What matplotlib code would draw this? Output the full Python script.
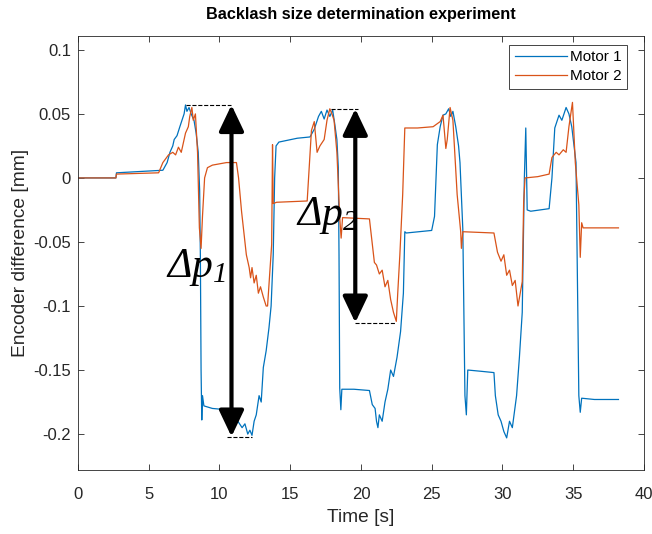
import numpy as np
import matplotlib
matplotlib.use("Agg")
import matplotlib.pyplot as plt

plt.rcParams['font.family'] = ['Liberation Sans', 'DejaVu Sans']
plt.rcParams['axes.unicode_minus'] = False
plt.rcParams['mathtext.fontset'] = 'custom'
plt.rcParams['mathtext.rm'] = 'Liberation Serif:italic'
plt.rcParams['mathtext.it'] = 'Liberation Serif:italic'

# Motor 1 (blue) encoder difference
t1 = [0, 2.68, 2.72, 6.0, 6.3, 6.5, 6.7, 6.8, 7.0, 7.2, 7.35, 7.5, 7.6, 7.7, 7.85,
      8.0, 8.2, 8.35, 8.5, 8.6, 8.65, 8.7, 8.75, 8.8, 8.9, 9.5, 10.5, 11.0, 11.3,
      11.6, 11.8, 12.0, 12.15, 12.3, 12.45, 12.6, 12.8, 12.95, 13.1, 13.3, 13.5,
      13.65, 13.8, 13.9, 14.0, 14.2, 15.5, 16.4, 16.7, 17.0, 17.2, 17.4, 17.6,
      17.8, 18.0, 18.15, 18.3, 18.4, 18.45, 18.5, 18.58, 18.65, 19.5, 20.6, 20.8,
      21.0, 21.1, 21.2, 21.3, 21.5, 21.7, 21.9, 22.1, 22.3, 22.55, 22.8, 23.0,
      23.1, 23.2, 25.0, 25.2, 25.4, 25.6, 25.8, 26.0, 26.2, 26.35, 26.5, 26.7,
      26.9, 27.0, 27.2, 27.35, 27.45, 27.55, 28.5, 29.4, 29.5, 29.7, 29.9, 30.1,
      30.3, 30.5, 30.7, 31.0, 31.2, 31.4, 31.55, 31.65, 31.75, 32.0, 33.3, 33.5,
      33.7, 34.0, 34.2, 34.5, 34.7, 34.9, 35.2, 35.4, 35.5, 35.6, 36.5, 38.2]
m1 = [0, 0, 0.004, 0.006, 0.012, 0.02, 0.025, 0.03, 0.033, 0.04, 0.045, 0.05, 0.057,
      0.052, 0.055, 0.05, 0.045, 0.035, 0.02, -0.01, -0.06, -0.15, -0.189, -0.17,
      -0.178, -0.18, -0.181, -0.18, -0.19, -0.195, -0.192, -0.2, -0.197, -0.201,
      -0.19, -0.185, -0.17, -0.175, -0.148, -0.135, -0.117, -0.1, -0.06, 0.0,
      0.025, 0.028, 0.031, 0.032, 0.038, 0.048, 0.052, 0.046, 0.053, 0.048, 0.053,
      0.042, 0.03, 0.008, -0.06, -0.164, -0.181, -0.165, -0.165, -0.166, -0.177,
      -0.18, -0.19, -0.195, -0.185, -0.19, -0.175, -0.165, -0.15, -0.155, -0.14,
      -0.12, -0.09, -0.042, -0.043, -0.041, -0.03, 0.026, 0.04, 0.049, 0.05, 0.054,
      0.048, 0.052, 0.04, 0.025, 0.012, -0.04, -0.17, -0.185, -0.15, -0.151,
      -0.152, -0.17, -0.185, -0.19, -0.198, -0.203, -0.19, -0.195, -0.17, -0.14,
      -0.105, 0.0, 0.039, -0.025, -0.026, -0.024, 0.0, 0.039, 0.049, 0.045, 0.055,
      0.05, 0.04, 0.012, -0.17, -0.183, -0.172, -0.173, -0.173]

# Motor 2 (orange)
t2 = [0, 2.68, 2.72, 5.7, 6.0, 6.4, 6.7, 6.9, 7.1, 7.3, 7.6, 7.8, 7.9, 8.05, 8.15,
      8.3, 8.45, 8.58, 8.7, 8.8, 8.95, 9.15, 9.5, 10.5, 11.2, 11.35, 11.56, 11.9,
      12.1, 12.2, 12.3, 12.45, 12.6, 12.75, 12.9, 13.1, 13.3, 13.4, 13.55, 13.69,
      13.75, 13.8, 14.04, 16.2, 16.5, 16.7, 16.9, 17.1, 17.4, 17.6, 17.8, 17.95,
      18.1, 18.3, 18.5, 18.6, 18.7, 20.6, 20.95, 21.1, 21.3, 21.5, 21.7, 21.9,
      22.1, 22.3, 22.5, 22.6, 22.75, 22.95, 23.1, 24.0, 25.1, 25.6, 25.8, 26.0,
      26.1, 26.3, 26.5, 26.8, 27.05, 27.1, 27.2, 29.4, 29.65, 29.9, 30.1, 30.3,
      30.5, 30.7, 30.9, 31.1, 31.4, 31.5, 31.6, 32.5, 33.3, 33.5, 33.8, 34.0, 34.3,
      34.5, 34.7, 34.95, 35.15, 35.4, 35.5, 35.6, 35.7, 38.2]
m2 = [0, 0, 0.003, 0.004, 0.012, 0.018, 0.02, 0.018, 0.024, 0.02, 0.035, 0.04,
      0.048, 0.055, 0.045, 0.05, 0.02, -0.039, -0.055, -0.03, 0.0, 0.008, 0.01,
      0.012, 0.012, 0.0, -0.026, -0.06, -0.07, -0.078, -0.07, -0.082, -0.076,
      -0.09, -0.085, -0.093, -0.1, -0.1, -0.075, -0.052, 0.026, -0.02, -0.019,
      -0.018, 0.037, 0.044, 0.02, 0.025, 0.03, 0.045, 0.054, 0.05, 0.045, 0.02,
      -0.031, -0.047, -0.031, -0.032, -0.066, -0.068, -0.075, -0.072, -0.085,
      -0.08, -0.095, -0.105, -0.112, -0.09, -0.06, -0.013, 0.039, 0.039, 0.04,
      0.044, 0.049, 0.023, 0.03, 0.055, 0.045, -0.013, -0.042, -0.055, -0.042,
      -0.043, -0.058, -0.065, -0.06, -0.076, -0.072, -0.084, -0.08, -0.1, -0.081,
      -0.019, 0.0, 0.001, 0.003, 0.016, 0.02, 0.018, 0.022, 0.02, 0.04, 0.059,
      0.012, -0.021, -0.062, -0.035, -0.039, -0.039]

# backlash markers: arrow x, top, bottom
dp_x = [10.85, 19.6]
dp_top = [0.057, 0.054]
dp_bot = [-0.202, -0.113]

fig = plt.figure(figsize=(6.52, 5.34), dpi=100)
ax = fig.add_axes([0.1196, 0.12, 0.868, 0.813])

blue = '#0072BD'
orange = '#D95319'
ax.plot(t1, m1, color=blue, lw=0.9, label='Motor 1')
ax.plot(t2, m2, color=orange, lw=0.9, label='Motor 2')

# dashed guide lines
ax.plot([7.6, dp_x[0]], [dp_top[0], dp_top[0]], 'k--', lw=0.8)
ax.plot([dp_x[0] - 0.3, 12.3], [dp_bot[0], dp_bot[0]], 'k--', lw=0.8)
ax.plot([17.9, dp_x[1] + 0.2], [dp_top[1], dp_top[1]], 'k--', lw=0.8)
ax.plot([dp_x[1], 22.5], [dp_bot[1], dp_bot[1]], 'k--', lw=0.8)

for x, top, bot in zip(dp_x, dp_top, dp_bot):
    ax.annotate('', xy=(x, top), xytext=(x, bot),
                arrowprops=dict(arrowstyle='<|-|>,head_length=0.8,head_width=0.38',
                                mutation_scale=20, lw=3, color='k',
                                shrinkA=0, shrinkB=0))

ax.text(6.2, -0.070, r'$\Delta p_1$', fontsize=30, va='center', ha='left')
ax.text(15.4, -0.029, r'$\Delta p_2$', fontsize=30, va='center', ha='left')

ax.set_xlim(0, 40)
ax.set_ylim(-0.228, 0.111)
ax.set_xticks(np.arange(0, 41, 5))
ax.set_yticks([-0.2, -0.15, -0.1, -0.05, 0, 0.05, 0.1])
ax.set_yticklabels(['-0.2', '-0.15', '-0.1', '-0.05', '0', '0.05', '0.1'])
ax.tick_params(direction='in', top=True, right=True, labelsize=12,
               colors='#262626', length=4, width=0.6)
ax.tick_params(axis='x', pad=12)
ax.tick_params(axis='y', pad=5)
for s in ax.spines.values():
    s.set_color('#262626')
    s.set_linewidth(0.6)

ax.set_xlabel('Time [s]', fontsize=13.8, color='#262626', labelpad=5)
ax.set_ylabel('Encoder difference [mm]', fontsize=13.8, color='#262626', labelpad=3)
ax.set_title('Backlash size determination experiment', fontsize=11.7,
             fontweight='bold', color='k', pad=12)

leg = ax.legend(loc='upper right', fontsize=11, fancybox=False,
                edgecolor='#262626', framealpha=1, borderaxespad=0.5,
                bbox_to_anchor=(0.983, 0.997),
                handlelength=3.4, handletextpad=0.2, borderpad=0.35,
                labelspacing=0.35)
leg.get_frame().set_linewidth(0.6)

fig.savefig('out.png', dpi=100)
